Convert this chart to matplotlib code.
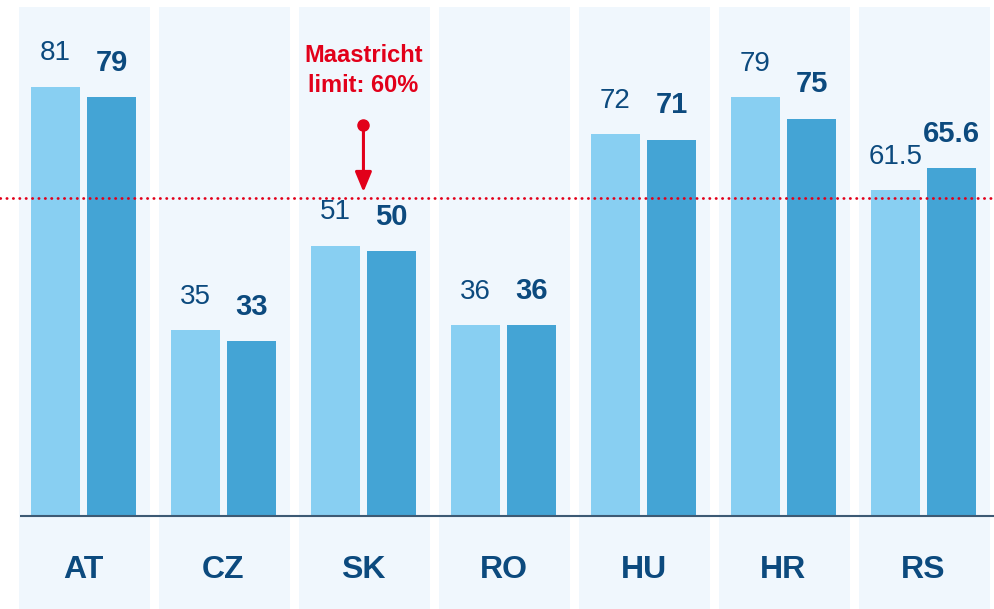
import matplotlib
matplotlib.use("Agg")
import matplotlib.pyplot as plt
import numpy as np

# ================================
# Data
# ================================
countries = ["AT", "CZ", "SK", "RO", "HU", "HR", "RS"]
values_a = [81, 35, 51, 36, 72, 79, 61.5]
values_b = [79, 33, 50, 36, 71, 75, 65.6]
labels_a = ["81", "35", "51", "36", "72", "79", "61.5"]
labels_b = ["79", "33", "50", "36", "71", "75", "65.6"]
limit = 60

# ================================
# Style
# ================================
plt.rcParams["font.family"] = ["Liberation Sans", "DejaVu Sans"]
LIGHT = "#88cff2"
DARK = "#44a4d5"
TEXT = "#0c4a7e"
RED = "#e2001a"
PANEL = "#f0f7fd"
BASE = "#3d5a74"

fig = plt.figure(figsize=(9.94, 6.09), dpi=100)
ax = fig.add_axes([0, 0, 1, 1])
ax.set_xlim(-0.596, 6.504)
ax.set_ylim(-17.55, 97.36)
ax.axis("off")

x = np.arange(len(countries))
w = 0.35
off = 0.2

# background panels
ax.bar(x + 0.01, 96.0 + 17.55, bottom=-17.55, width=0.935, color=PANEL, zorder=0)

ax.bar(x - off, values_a, width=w, color=LIGHT, zorder=2)
ax.bar(x + off, values_b, width=w, color=DARK, zorder=2)

ax.hlines(0, -0.454, 6.504, color=BASE, linewidth=1.5, zorder=3)

# limit line
ax.axhline(limit, color=RED, linewidth=2.0, linestyle=(0, (0.1, 2.2)),
           dash_capstyle="round", zorder=4)

for i in range(len(countries)):
    ax.annotate(labels_a[i], (x[i] - off, values_a[i]), xytext=(0, 19),
                textcoords="offset points", ha="center", va="baseline",
                fontsize=20, color=TEXT)
    ax.annotate(labels_b[i], (x[i] + off, values_b[i]), xytext=(0, 19),
                textcoords="offset points", ha="center", va="baseline",
                fontsize=21, color=TEXT, fontweight="bold")
    ax.text(x[i], -10.2, countries[i], ha="center", va="center",
            fontsize=23, color=TEXT, fontweight="bold")

# Maastricht annotation
sk = countries.index("SK")
ax.plot(sk, 73.8, "o", color=RED, markersize=8, zorder=5)
ax.annotate("", xy=(sk, limit + 0.6), xytext=(sk, 73.8),
            arrowprops=dict(arrowstyle="-|>,head_length=1.2,head_width=0.5",
                            color=RED, linewidth=2.2), zorder=5)
ax.text(sk, 84.0, "Maastricht\nlimit: 60%", ha="center", va="center",
        fontsize=17, color=RED, fontweight="bold", linespacing=1.4)

fig.savefig("out.png", dpi=100)
